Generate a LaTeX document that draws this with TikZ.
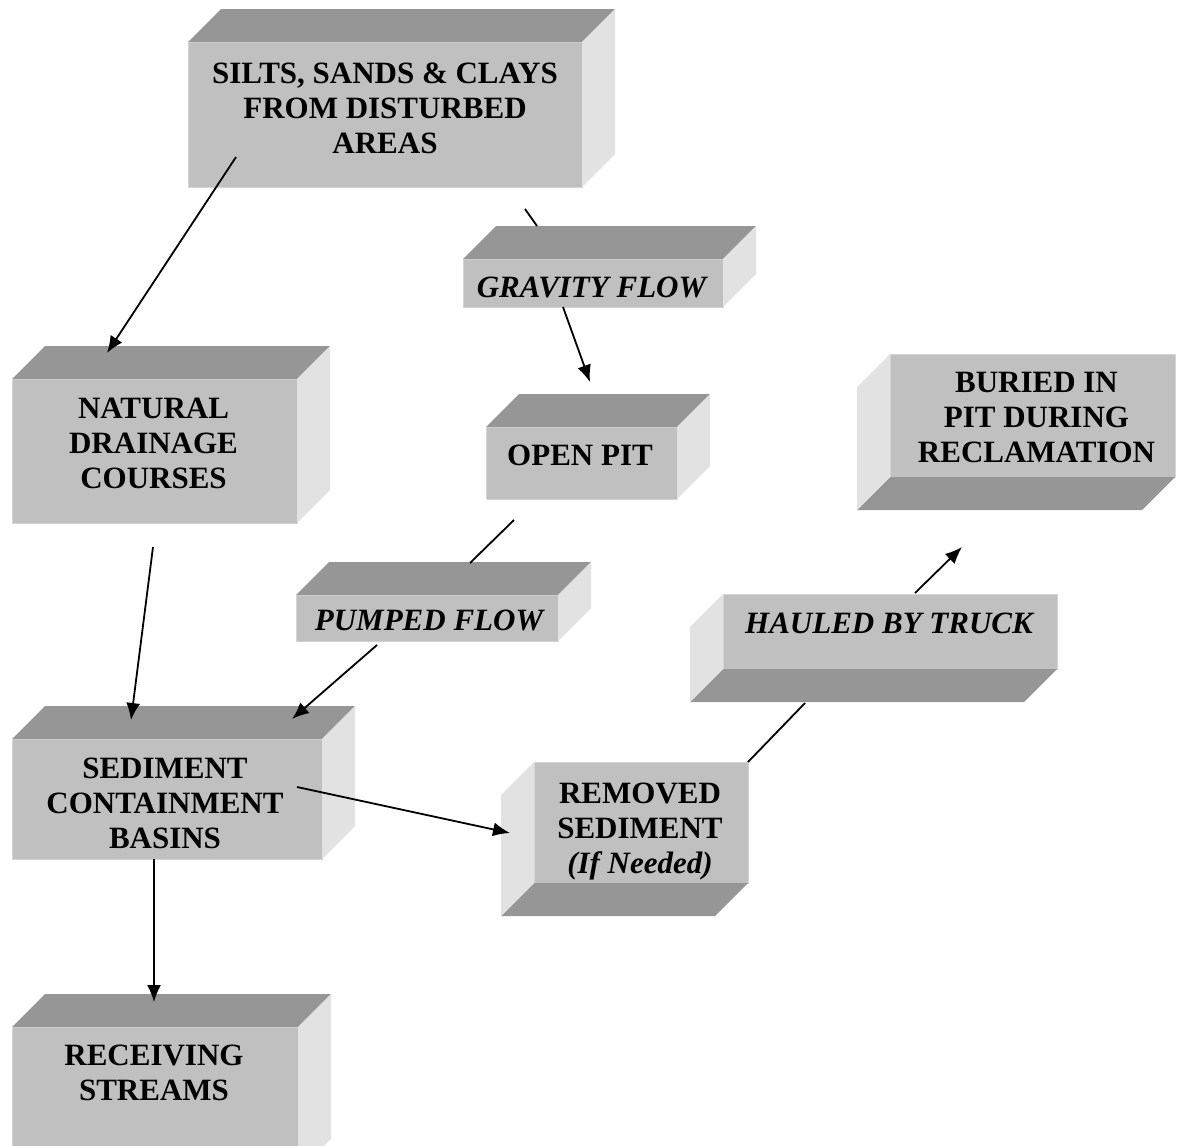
\documentclass[tikz,border=0pt]{standalone}
\usepackage{fontspec}
\setmainfont{Liberation Serif}
\usetikzlibrary{arrows.meta}
\definecolor{cfront}{RGB}{192,192,192}
\definecolor{ctop}{RGB}{150,150,150}
\definecolor{cside}{RGB}{226,226,226}
\definecolor{cedge}{RGB}{212,212,212}
\newcommand\faceup[1]{%
  \fill[ctop] (#1.north west) -- ++(33,33) -- ([shift={(33,33)}]#1.north east) -- (#1.north east) -- cycle;
  \fill[cside] (#1.north east) -- ++(33,33) -- ([shift={(33,33)}]#1.south east) -- (#1.south east) -- cycle;}
\newcommand\facedown[1]{%
  \fill[ctop] (#1.south west) -- ++(-33,-33) -- ([shift={(-33,-33)}]#1.south east) -- (#1.south east) -- cycle;
  \fill[cside] (#1.north west) -- ++(-33,-33) -- ([shift={(-33,-33)}]#1.south west) -- (#1.south west) -- cycle;}
\begin{document}
\begin{tikzpicture}[x=1pt,y=1pt,
  face/.style={rectangle, fill=cfront, draw=cedge, line width=1pt, inner sep=0pt, outer sep=0pt},
  lbl/.style={anchor=north, align=center, inner sep=0pt, font=\fontsize{31}{35}\selectfont\bfseries},
  ilbl/.style={lbl, font=\fontsize{31}{35}\selectfont\bfseries\itshape},
  conn/.style={line width=1.8pt},
  arr/.style={conn, -{Latex[length=17pt,width=14pt]}}]
\path[use as bounding box] (0,0) rectangle (1181,-1146);
\clip (0,0) rectangle (1181,-1146);
% front faces
\node[face, minimum width=394, minimum height=145] (silts) at (385,-114.5) {};
\node[face, minimum width=285, minimum height=144] (natural) at (154.5,-451) {};
\node[face, minimum width=260, minimum height=48] (gravity) at (593,-283) {};
\node[face, minimum width=191, minimum height=72] (openpit) at (581.5,-463) {};
\node[face, minimum width=262, minimum height=46] (pumped) at (427,-618) {};
\node[face, minimum width=285, minimum height=123] (buried) at (1032.5,-415.5) {};
\node[face, minimum width=334, minimum height=75] (hauled) at (890,-631.5) {};
\node[face, minimum width=214, minimum height=121] (removed) at (641,-822.5) {};
\node[face, minimum width=310, minimum height=120] (sediment) at (167,-799) {};
\node[face, minimum width=286, minimum height=145] (receiving) at (155,-1099.5) {};
% depth faces
\faceup{silts}\faceup{natural}\faceup{gravity}\faceup{openpit}\faceup{pumped}
\faceup{sediment}\faceup{receiving}
\facedown{buried}\facedown{hauled}\facedown{removed}
% texts
\node[lbl] (siltsT) at (385,-63) {SILTS, SANDS \& CLAYS\\FROM DISTURBED\\AREAS};
\node[lbl] (naturalT) at (153.5,-398) {NATURAL\\DRAINAGE\\COURSES};
\node[ilbl] (gravityT) at (591.5,-277) {GRAVITY FLOW};
\node[lbl] (buriedT) at (1036.5,-372) {BURIED IN\\PIT DURING\\RECLAMATION};
\node[lbl] (openpitT) at (580,-445) {OPEN PIT};
\node[ilbl] (pumpedT) at (429,-610) {PUMPED FLOW};
\node[ilbl] (hauledT) at (889,-613) {HAULED BY TRUCK};
\node[lbl] (removedT) at (640,-783) {REMOVED\\SEDIMENT\\\textit{(If Needed)}};
\node[lbl] (sedimentT) at (165,-758) {SEDIMENT\\CONTAINMENT\\BASINS};
\node[lbl] (receivingT) at (154,-1045) {RECEIVING\\STREAMS};
% connectors
\draw[arr] ([shift={(48,30)}]silts.south west) -- ([shift={(95,26)}]natural.north west);
\draw[conn] ([shift={(-57,-22)}]silts.south east) -- ([shift={(74,33)}]gravity.north west);
\draw[arr] ([shift={(-30,0)}]gravity.south) -- ([shift={(8.5,45)}]openpit.north);
\draw[conn] ([shift={(-67.5,-21)}]openpit.south) -- ([shift={(174,32)}]pumped.north west);
\draw[arr] ([shift={(-50,-4)}]pumped.south) -- ([shift={(280,20)}]sediment.north west);
\draw[arr] ([shift={(-1.5,-24)}]natural.south) -- ([shift={(119,19)}]sediment.north west);
\draw[arr] ([shift={(-25,12)}]sediment.east) -- ([shift={(-24,-10.5)}]removed.west);
\draw[arr] ([shift={(-13,0)}]sediment.south) -- ([shift={(142,25)}]receiving.north west);
\draw[conn] (removed.north east) -- ([shift={(-85,-34)}]hauled.south);
\draw[arr] ([shift={(192,1)}]hauled.north west) -- ([shift={(72,-70)}]buried.south west);
\end{tikzpicture}
\end{document}
